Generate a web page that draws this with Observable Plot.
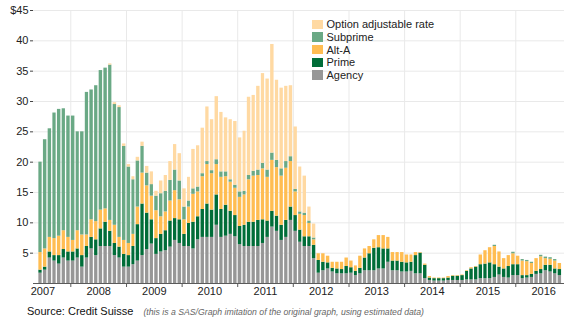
<!DOCTYPE html>
<html>
<head>
<meta charset="utf-8">
<script src="https://cdn.jsdelivr.net/npm/d3@7"></script>
<script src="https://cdn.jsdelivr.net/npm/@observablehq/plot@0.6"></script>
<style>
  body { margin: 0; background: #fff; font-family: "Liberation Sans", Arial, sans-serif; }
  #wrap { position: relative; width: 564px; height: 322px; overflow: hidden; }
  #chart svg { display: block; }
  .legend { position: absolute; left: 312px; top: 18px; font-size: 11px; color: #222; }
  .legend .row { display: flex; align-items: center; height: 12.7px; white-space: nowrap; }
  .legend .sw { width: 10.5px; height: 9.5px; margin-right: 4px; flex: none; }
  .caption { position: absolute; left: 27px; top: 305px; font-size: 11px; line-height: 13px; color: #111; white-space: nowrap; }
  .caption i { font-size: 8.7px; color: #666; margin-left: 7px; }
</style>
</head>
<body>
<div id="wrap">
  <div id="chart"></div>
  <div class="legend" id="legend"></div>
  <div class="caption">Source: Credit Suisse <i>(this is a SAS/Graph imitation of the original graph, using estimated data)</i></div>
</div>
<script>
// Monthly issuance, June 2007 through October 2016 (billions of dollars)
const firstMonth = [2007, 5]; // June 2007 (UTC month index)

const seriesNames = ["Agency", "Prime", "Alt-A", "Subprime", "Option adjustable rate"];
const seriesColors = ["#979797", "#006d38", "#ffbd52", "#6aa985", "#ffd9a2"];

const agency = [
  1.7, 2.2, 4.2, 3.7, 3.2, 4.2, 3.7,
  3.7, 4.2, 2.7, 4.2, 5.7, 4.6, 6.1, 6.1, 6.1, 4.6, 4.2, 2.7,
  2.7, 3.1, 3.7, 4.6, 5.6, 6.5, 4.8, 5.2, 5.4, 6.0, 7.1, 6.6,
  6.1, 6.1, 5.7, 7.2, 7.6, 7.6, 7.6, 9.6, 7.6, 7.8, 8.1, 7.7,
  6.4, 6.1, 6.1, 6.1, 6.1, 6.6, 7.6, 9.3, 8.6, 7.1, 7.6, 10.4,
  8.6, 6.8, 6.1, 6.1, 4.1, 1.7, 2.1, 2.4, 1.9, 1.6, 1.6, 1.6,
  1.7, 1.3, 1.6, 2.1, 2.1, 2.1, 2.4, 2.4, 3.5, 2.1, 2.1, 1.9,
  1.9, 2.0, 1.6, 1.6, 0.8, 0.5, 0.4, 0.4, 0.4, 0.5, 0.5, 0.5,
  0.5, 0.6, 0.6, 0.6, 0.8, 0.8, 0.8, 1.0, 1.4, 1.0, 0.9, 1.3,
  1.3, 0.8, 0.9, 1.0, 1.5, 1.6, 2.1, 1.9, 1.6, 1.3
];
const prime = [
  0.5, 0.5, 1.0, 0.9, 1.4, 1.4, 1.5,
  1.5, 1.5, 1.9, 1.9, 1.9, 2.6, 2.9, 4.0, 2.5, 2.0, 1.8, 2.1,
  1.9, 3.0, 6.0, 8.5, 6.0, 4.0, 2.6, 2.9, 3.3, 4.3, 3.6, 3.9,
  2.0, 3.8, 4.4, 3.8, 4.6, 5.5, 4.5, 5.0, 4.6, 5.1, 3.8, 3.5,
  3.0, 3.5, 4.0, 4.0, 4.3, 3.9, 2.7, 2.6, 2.5, 2.5, 2.8, 2.2,
  2.6, 2.0, 1.6, 1.6, 2.2, 2.1, 1.4, 1.0, 0.6, 0.8, 0.7, 1.2,
  0.9, 0.7, 0.9, 2.1, 2.8, 3.7, 3.5, 3.3, 2.2, 1.6, 1.6, 1.6,
  1.5, 1.5, 3.0, 3.4, 2.2, 0.4, 0.4, 0.4, 0.4, 0.4, 0.7, 0.7,
  0.8, 1.4, 1.8, 2.1, 2.3, 2.4, 2.6, 2.1, 1.3, 1.4, 1.9, 1.8,
  1.8, 0.5, 0.4, 0.5, 0.5, 0.7, 0.9, 1.1, 0.8, 1.0
];
const altA = [
  2.9, 3.0, 2.4, 2.8, 3.2, 3.1, 2.4,
  1.9, 3.0, 3.4, 1.9, 2.9, 3.0, 3.1, 2.2, 1.8, 3.0, 1.6, 2.3,
  2.0, 2.0, 2.9, 5.1, 4.5, 3.9, 4.6, 2.9, 3.1, 3.3, 4.6, 3.3,
  2.4, 2.7, 4.6, 4.1, 5.4, 6.5, 6.0, 5.0, 5.3, 4.7, 4.8, 4.5,
  4.8, 5.0, 7.0, 7.6, 7.4, 8.4, 7.2, 8.4, 8.0, 8.1, 8.6, 7.5,
  3.9, 2.6, 3.5, 2.2, 0.9, 1.1, 1.4, 1.1, 1.0, 1.1, 1.2, 1.4,
  1.1, 0.9, 2.0, 1.5, 1.2, 1.4, 2.0, 2.2, 1.9, 1.4, 1.4, 1.6,
  1.3, 1.2, 0.5, 0.1, 0.2, 0.25, 0.1, 0.1, 0.1, 0.25, 0.1, 0.1,
  0.1, 0.1, 0.2, 0.1, 1.6, 2.2, 2.5, 3.0, 2.5, 1.7, 1.8, 1.8,
  1.4, 2.4, 2.3, 1.8, 2.1, 2.1, 1.1, 1.0, 1.3, 1.0
];
const subprime = [
  14.9, 18.0, 17.9, 20.7, 20.9, 20.1, 20.0,
  20.5, 16.3, 17.0, 23.5, 21.4, 22.4, 23.0, 23.2, 25.6, 19.9, 21.4, 15.5,
  12.6, 9.0, 7.6, 4.4, 2.1, 1.9, 2.4, 3.8, 3.4, 3.4, 3.4, 3.1,
  2.1, 1.0, 0.9, 0.8, 0.5, 0.5, 0.5, 0.8, 0.9, 0.8, 0.4, 0.5,
  0.9, 0.6, 0.7, 0.8, 0.9, 0.9, 1.2, 1.2, 1.2, 1.2, 1.1, 0.8,
  0.4, 0.4, 0.4, 0.4, 0.3, 0, 0, 0, 0, 0, 0, 0,
  0, 0, 0, 0, 0, 0, 0, 0, 0, 0, 0, 0,
  0, 0, 0, 0, 0, 0, 0, 0, 0, 0, 0, 0,
  0, 0, 0, 0, 0, 0, 0, 0.2, 0, 0, 0, 0.25,
  0, 0.25, 0.2, 0.2, 0, 0.25, 0.25, 0.25, 0.25, 0
];
const optionArm = [
  0, 0, 0, 0, 0, 0, 0,
  0, 0, 0, 0, 0, 0, 0, 0, 0.2, 0.3, 0.3, 0.4,
  0.4, 0.5, 0.6, 0.7, 1.1, 2.1, 0.8, 2.1, 2.6, 3.1, 4.2, 4.5,
  3.0, 3.9, 6.5, 6.8, 7.5, 9.0, 8.4, 10.4, 9.8, 8.9, 9.9, 10.5,
  8.9, 9.9, 12.9, 12.5, 13.8, 14.8, 15.0, 17.9, 13.2, 13.3, 12.4, 11.7,
  10.3, 7.4, 6.1, 2.3, 2.3, 0, 0, 0, 0, 0, 0, 0,
  0, 0, 0, 0, 0, 0, 0, 0, 0, 0, 0, 0,
  0, 0, 0, 0, 0, 0, 0, 0, 0, 0, 0, 0,
  0, 0, 0, 0, 0, 0, 0, 0, 0, 0, 0, 0,
  0, 0, 0, 0, 0, 0, 0, 0, 0, 0
];

const yTicks = [5, 10, 15, 20, 25, 30, 35, 40, 45];
const yearLabels = [2007, 2008, 2009, 2010, 2011, 2012, 2013, 2014, 2015, 2016];

// Long-format table: one row per month and series, stacked bottom to top in seriesNames order
const columns = [agency, prime, altA, subprime, optionArm];
const start = new Date(Date.UTC(firstMonth[0], firstMonth[1], 1));
const table = [];
columns.forEach((values, s) => {
  values.forEach((v, i) => {
    const date = d3.utcMonth.offset(start, i);
    table.push({date, end: d3.utcMonth.offset(date, 1), series: seriesNames[s], value: v});
  });
});

const yearStarts = yearLabels.slice(1).map(y => new Date(Date.UTC(y, 0, 1)));
const yearMids = yearLabels.map(y => new Date(Date.UTC(y, 6, 2)));

const chart = Plot.plot({
  width: 564,
  height: 300,
  marginTop: 10,
  marginBottom: 17,
  marginLeft: 33,
  marginRight: 0,
  style: {fontFamily: "'Liberation Sans', Arial, sans-serif", fontSize: "11px", color: "#222", background: "#fff"},
  x: {type: "utc", domain: [new Date(Date.UTC(2007, 4, 1)), new Date(Date.UTC(2016, 10, 16))]},
  y: {domain: [0, 45]},
  color: {domain: seriesNames, range: seriesColors},
  marks: [
    Plot.gridY(yTicks, {stroke: "#e9e9e9", strokeOpacity: 1}),
    Plot.gridX(yearStarts, {stroke: "#e9e9e9", strokeOpacity: 1}),
    Plot.rectY(table, {
      x1: "date", x2: "end", y: "value", fill: "series",
      order: seriesNames, insetLeft: 0.65, insetRight: 0.65
    }),
    Plot.ruleY([0], {stroke: "#5a5a5a", strokeWidth: 1}),
    Plot.axisY(yTicks, {
      tickSize: 3, tickPadding: 2, stroke: "#444", fill: "#222",
      tickFormat: d => d === 45 ? "$45" : String(d), label: null
    }),
    Plot.axisX(yearStarts, {tickSize: 4, stroke: "#5a5a5a", tickFormat: () => "", label: null}),
    Plot.axisX(yearMids, {tickSize: 0, tickPadding: 4, fill: "#222", tickFormat: d3.utcFormat("%Y"), label: null})
  ]
});
document.getElementById("chart").append(chart);

// Legend, listed top series first
const legend = document.getElementById("legend");
seriesNames.map((name, i) => [name, seriesColors[i]]).reverse().forEach(([name, color]) => {
  const row = document.createElement("div");
  row.className = "row";
  const sw = document.createElement("span");
  sw.className = "sw";
  sw.style.background = color;
  const label = document.createElement("span");
  label.textContent = name;
  row.append(sw, label);
  legend.append(row);
});
</script>
</body>
</html>
